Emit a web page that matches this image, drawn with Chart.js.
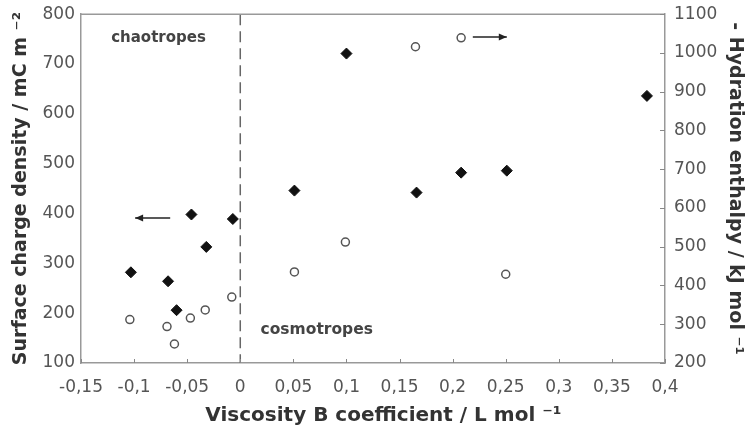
<!DOCTYPE html>
<html>
<head>
<meta charset="utf-8">
<script src="https://cdn.jsdelivr.net/npm/chart.js@4"></script>
<style>
  html, body { margin: 0; padding: 0; background: #fff; }
  #wrap { width: 756px; height: 432px; }
</style>
</head>
<body>
<div id="wrap"><canvas id="chart"></canvas></div>
<script>
// surface charge density (left axis), filled diamonds
const chargeX = [-0.103, -0.068, -0.060, -0.046, -0.032, -0.007, 0.051, 0.100, 0.166, 0.208, 0.251, 0.383];
const chargeY = [282, 264, 206, 398, 333, 389, 446, 721, 442, 482, 486, 636];

// -hydration enthalpy (right axis), open circles
const enthalpyX = [-0.104, -0.069, -0.062, -0.047, -0.033, -0.008, 0.051, 0.099, 0.165, 0.208, 0.250];
const enthalpyY = [312, 294, 249, 316, 337, 370, 435, 512, 1016, 1039, 429];

// leading nbsp's nudge the centred title a little to the right, like the original
const xTitle = "\u00A0\u00A0\u00A0Viscosity B coefficient / L mol \u207B\u00B9";
const leftTitle = "Surface charge density / mC m \u207B\u00B2";
const rightTitle = "- Hydration enthalpy / kJ mol \u207B\u00B9";

const tickFont = { family: "'DejaVu Sans', sans-serif", size: 17 };
const titleFont = { family: "'DejaVu Sans', sans-serif", size: 20, weight: "bold" };
const sideTitleFont = { family: "'DejaVu Sans', sans-serif", size: 19, weight: "bold" };

const fmt = (v) => Number(v.toFixed(2)).toString().replace(".", ",");

const extras = {
  id: "extras",
  afterDatasetsDraw(chart) {
    const { ctx, chartArea } = chart;
    const x = chart.scales.x;
    const yl = chart.scales.y;
    const yr = chart.scales.y2;
    ctx.save();

    // dashed divider at B = 0
    ctx.strokeStyle = "#666";
    ctx.lineWidth = 1.5;
    ctx.setLineDash([11, 6]);
    ctx.beginPath();
    ctx.moveTo(x.getPixelForValue(0), chartArea.top);
    ctx.lineTo(x.getPixelForValue(0), chartArea.bottom);
    ctx.stroke();
    ctx.setLineDash([]);

    // arrows
    const arrow = (x1, y1, x2, y2) => {
      ctx.strokeStyle = "#222";
      ctx.fillStyle = "#222";
      ctx.lineWidth = 1.5;
      ctx.beginPath();
      ctx.moveTo(x1, y1);
      ctx.lineTo(x2, y2);
      ctx.stroke();
      const dir = Math.sign(x2 - x1);
      ctx.beginPath();
      ctx.moveTo(x2, y2);
      ctx.lineTo(x2 - dir * 8, y2 - 3.5);
      ctx.lineTo(x2 - dir * 8, y2 + 3.5);
      ctx.closePath();
      ctx.fill();
    };
    arrow(x.getPixelForValue(-0.066), yl.getPixelForValue(391), x.getPixelForValue(-0.099), yl.getPixelForValue(391));
    arrow(x.getPixelForValue(0.219), yr.getPixelForValue(1041), x.getPixelForValue(0.251), yr.getPixelForValue(1041));

    // region labels
    ctx.fillStyle = "#444";
    ctx.textAlign = "center";
    ctx.textBaseline = "middle";
    ctx.font = "bold 15px 'DejaVu Sans', sans-serif";
    ctx.fillText("chaotropes", x.getPixelForValue(-0.077), yl.getPixelForValue(753));
    ctx.font = "bold 15.5px 'DejaVu Sans', sans-serif";
    ctx.fillText("cosmotropes", x.getPixelForValue(0.072), yl.getPixelForValue(166));

    // top border
    ctx.strokeStyle = "#999";
    ctx.lineWidth = 1.5;
    ctx.beginPath();
    ctx.moveTo(chartArea.left, chartArea.top);
    ctx.lineTo(chartArea.right, chartArea.top);
    ctx.stroke();

    // inner half of the right axis ticks, small inner ticks on x
    ctx.strokeStyle = "#888";
    ctx.lineWidth = 1;
    yr.ticks.forEach((t) => {
      const py = Math.round(yr.getPixelForValue(t.value)) + 0.5;
      ctx.beginPath();
      ctx.moveTo(chartArea.right - 5, py);
      ctx.lineTo(chartArea.right, py);
      ctx.stroke();
    });
    x.ticks.forEach((t) => {
      const px = Math.round(x.getPixelForValue(t.value)) + 0.5;
      ctx.beginPath();
      ctx.moveTo(px, chartArea.bottom);
      ctx.lineTo(px, chartArea.bottom - 4);
      ctx.stroke();
    });
    ctx.restore();
  },
};

new Chart(document.getElementById("chart"), {
  type: "scatter",
  data: {
    datasets: [
      {
        label: "Surface charge density",
        data: chargeX.map((v, i) => ({ x: v, y: chargeY[i] })),
        yAxisID: "y",
        pointStyle: "rectRot",
        pointRadius: 5.5,
        backgroundColor: "#111",
        borderColor: "#111",
        borderWidth: 1,
      },
      {
        label: "- Hydration enthalpy",
        data: enthalpyX.map((v, i) => ({ x: v, y: enthalpyY[i] })),
        yAxisID: "y2",
        pointStyle: "circle",
        pointRadius: 4,
        backgroundColor: "#fff",
        borderColor: "#555",
        borderWidth: 1.5,
      },
    ],
  },
  plugins: [extras],
  options: {
    responsive: true,
    maintainAspectRatio: false,
    animation: false,
    layout: { padding: { top: 14, left: 0, right: 0, bottom: 0 } },
    plugins: { legend: { display: false }, tooltip: { enabled: false } },
    scales: {
      x: {
        type: "linear",
        min: -0.15,
        max: 0.4,
        ticks: { stepSize: 0.05, color: "#555", font: tickFont, padding: 14, maxRotation: 0, callback: (v) => fmt(v) },
        grid: { display: false, drawTicks: false },
        border: { color: "#999", width: 1.5 },
        title: { display: true, text: xTitle, color: "#333", font: titleFont, padding: { top: 0, bottom: 4 } },
        afterFit: (s) => { s.height = 69; },
      },
      y: {
        position: "left",
        min: 100,
        max: 800,
        ticks: { stepSize: 100, color: "#555", font: tickFont, padding: 1 },
        grid: { display: false, drawTicks: true, tickLength: 5, tickColor: "#999" },
        border: { color: "#999", width: 1.5 },
        title: { display: true, text: leftTitle, color: "#333", font: sideTitleFont, padding: { top: 10, bottom: 0 } },
        afterFit: (s) => { s.width = 81; },
      },
      y2: {
        position: "right",
        min: 200,
        max: 1100,
        ticks: { stepSize: 100, color: "#555", font: tickFont, padding: 4, callback: (v) => String(v) },
        grid: { display: false, drawOnChartArea: false, drawTicks: true, tickLength: 5, tickColor: "#888" },
        border: { color: "#999", width: 1.5 },
        title: { display: true, text: rightTitle, color: "#333", font: sideTitleFont, padding: { top: 10, bottom: 0 } },
        afterFit: (s) => { s.width = 91; },
      },
    },
  },
});
</script>
</body>
</html>
